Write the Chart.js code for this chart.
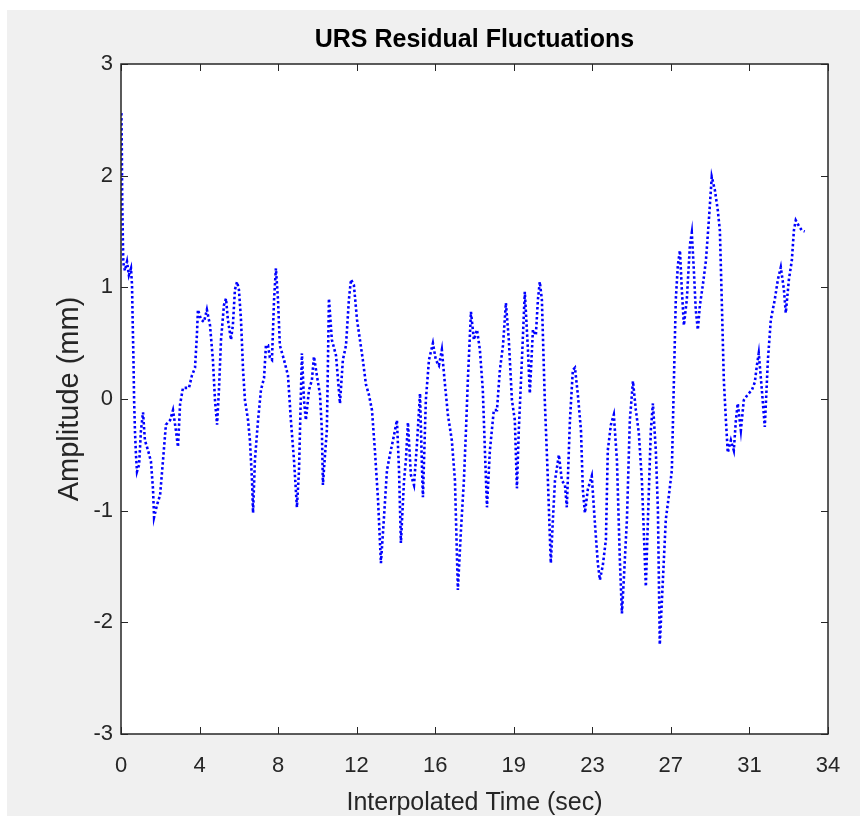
<!DOCTYPE html>
<html>
<head>
<meta charset="utf-8">
<title>URS Residual Fluctuations</title>
<script src="https://cdn.jsdelivr.net/npm/chart.js@4.4.0/dist/chart.umd.min.js"></script>
<style>
  html, body { margin: 0; padding: 0; background: #fff; }
  #wrap { width: 860px; height: 816px; }
</style>
</head>
<body>
<div id="wrap"><canvas id="myChart" width="860" height="816"></canvas></div>
<script>
// Time (sec) and residual amplitude (mm) of the URS trace
const timeSec = [
  0.02, 0.04, 0.05, 0.06, 0.08, 0.09, 0.11, 0.19, 0.29, 0.38,
  0.48, 0.53, 0.56, 0.60, 0.63, 0.67, 0.72, 0.77, 0.87, 0.96,
  1.06, 1.15, 1.30, 1.44, 1.54, 1.59, 1.73, 1.88, 2.02, 2.16,
  2.36, 2.50, 2.64, 2.74, 2.84, 2.98, 3.27, 3.41, 3.56, 3.65,
  3.70, 3.85, 3.99, 4.13, 4.28, 4.42, 4.52, 4.62, 4.71, 4.81,
  4.95, 5.05, 5.14, 5.29, 5.38, 5.48, 5.58, 5.67, 5.77, 5.87,
  5.96, 6.11, 6.20, 6.30, 6.35, 6.44, 6.59, 6.73, 6.88, 6.97,
  7.07, 7.16, 7.26, 7.36, 7.45, 7.55, 7.64, 7.84, 8.03, 8.17,
  8.32, 8.46, 8.56, 8.70, 8.80, 8.89, 9.04, 9.18, 9.28, 9.42,
  9.57, 9.66, 9.71, 9.81, 9.90, 10.00, 10.14, 10.34, 10.53, 10.67,
  10.82, 10.96, 11.06, 11.20, 11.35, 11.49, 11.63, 11.78, 11.92, 12.07,
  12.21, 12.36, 12.50, 12.64, 12.79, 12.93, 13.08, 13.27, 13.37, 13.46,
  13.61, 13.70, 13.80, 13.94, 14.09, 14.23, 14.38, 14.47, 14.52, 14.66,
  14.81, 15.00, 15.14, 15.29, 15.43, 15.58, 15.72, 15.91, 16.06, 16.20,
  16.35, 16.49, 16.59, 16.68, 16.83, 16.97, 17.12, 17.26, 17.40, 17.50,
  17.60, 17.74, 17.93, 18.08, 18.22, 18.37, 18.51, 18.65, 18.80, 18.94,
  19.04, 19.13, 19.28, 19.42, 19.57, 19.66, 19.81, 19.95, 20.05, 20.14,
  20.24, 20.38, 20.53, 20.67, 20.77, 20.87, 21.06, 21.20, 21.35, 21.44,
  21.59, 21.73, 21.83, 21.97, 22.12, 22.21, 22.31, 22.45, 22.64, 22.79,
  22.93, 23.03, 23.17, 23.32, 23.41, 23.56, 23.70, 23.85, 23.99, 24.09,
  24.18, 24.33, 24.47, 24.62, 24.76, 24.90, 25.05, 25.24, 25.34, 25.48,
  25.58, 25.72, 25.82, 25.91, 26.06, 26.20, 26.35, 26.49, 26.59, 26.68,
  26.78, 26.88, 26.97, 27.07, 27.21, 27.36, 27.45, 27.55, 27.64, 27.74,
  27.84, 27.98, 28.13, 28.27, 28.41, 28.56, 28.70, 28.80, 28.89, 28.99,
  29.09, 29.18, 29.33, 29.47, 29.57, 29.66, 29.81, 29.95, 30.14, 30.34,
  30.48, 30.58, 30.67, 30.82, 30.96, 31.11, 31.25, 31.44, 31.59, 31.73,
  31.88, 31.97, 32.12, 32.26, 32.36, 32.45, 32.60, 32.74, 32.88
];
const amplitudeMm = [
  2.56, 2.23, 1.96, 1.75, 1.54, 1.41, 1.22, 1.15, 1.23, 1.11,
  1.17, 1.02, 0.71, 0.35, -0.01, -0.28, -0.50, -0.65, -0.59, -0.28,
  -0.12, -0.37, -0.46, -0.56, -0.81, -1.06, -0.95, -0.86, -0.55, -0.23,
  -0.19, -0.10, -0.28, -0.43, -0.05, 0.10, 0.10, 0.21, 0.28, 0.57,
  0.80, 0.71, 0.69, 0.80, 0.66, 0.35, -0.01, -0.23, 0.08, 0.53,
  0.84, 0.90, 0.71, 0.53, 0.66, 0.98, 1.05, 0.98, 0.71, 0.26,
  -0.01, -0.19, -0.37, -0.73, -1.02, -0.55, -0.19, 0.08, 0.19, 0.48,
  0.48, 0.37, 0.35, 0.89, 1.17, 0.89, 0.48, 0.35, 0.21, -0.19,
  -0.55, -0.97, -0.64, 0.41, -0.01, -0.19, 0.08, 0.17, 0.38, 0.21,
  0.04, -0.28, -0.77, -0.50, -0.28, 0.90, 0.53, 0.39, -0.04, 0.35,
  0.48, 0.89, 1.07, 1.02, 0.71, 0.53, 0.35, 0.13, 0.04, -0.10,
  -0.46, -0.90, -1.47, -1.08, -0.64, -0.50, -0.37, -0.19, -0.64, -1.29,
  -0.73, -0.55, -0.21, -0.68, -0.77, -0.41, 0.05, -0.59, -0.88, -0.01,
  0.35, 0.50, 0.35, 0.30, 0.44, 0.13, -0.14, -0.37, -0.73, -1.71,
  -1.17, -0.73, -0.28, 0.17, 0.78, 0.53, 0.62, 0.44, 0.08, -0.46,
  -0.97, -0.46, -0.10, -0.10, 0.26, 0.48, 0.86, 0.53, -0.01, -0.19,
  -0.80, -0.28, 0.35, 0.96, 0.44, 0.05, 0.62, 0.57, 0.89, 1.05,
  0.89, -0.01, -0.73, -1.47, -1.08, -0.73, -0.50, -0.73, -0.77, -0.97,
  -0.19, 0.26, 0.28, 0.04, -0.28, -0.81, -1.02, -0.81, -0.69, -1.11,
  -1.47, -1.62, -1.49, -1.26, -0.46, -0.23, -0.14, -0.55, -1.44, -1.92,
  -1.62, -1.08, -0.19, 0.16, -0.10, -0.30, -0.73, -1.68, -1.08, -0.28,
  -0.04, -0.46, -0.99, -2.20, -1.62, -1.08, -0.86, -0.64, 0.17, 0.89,
  1.20, 1.33, 0.98, 0.66, 0.89, 1.38, 1.49, 1.15, 0.80, 0.62,
  0.84, 1.02, 1.24, 1.60, 1.99, 1.87, 1.69, 1.51, 0.89, 0.17,
  -0.19, -0.48, -0.37, -0.46, -0.19, -0.04, -0.28, -0.01, 0.04, 0.08,
  0.15, 0.30, 0.41, 0.08, -0.25, 0.35, 0.71, 0.89, 1.07, 1.18,
  0.98, 0.77, 1.07, 1.24, 1.51, 1.60, 1.55, 1.51, 1.50
];
// Time axis ticks: evenly spaced over 0..34, labels rounded up
const xTickValues = [0, 3.78, 7.56, 11.33, 15.11, 18.89, 22.67, 26.44, 30.22, 34];
const xTickLabels = ["0", "4", "8", "12", "16", "19", "23", "27", "31", "34"];
const yTickValues = [-3, -2, -1, 0, 1, 2, 3];

const FONT = "'Liberation Sans', Arial, sans-serif";
const AXIS_COLOR = "#262626";

// Grey figure background, white axes box, inward ticks on all four sides
const axisFrame = {
  id: "axisFrame",
  beforeDraw(chart) {
    const ctx = chart.ctx;
    const a = chart.chartArea;
    ctx.save();
    ctx.fillStyle = "#ffffff";
    ctx.fillRect(0, 0, chart.width, chart.height);
    ctx.fillStyle = "#f0f0f0";
    ctx.fillRect(7, 10, chart.width - 7, chart.height - 10);
    ctx.fillStyle = "#ffffff";
    ctx.fillRect(a.left, a.top, a.right - a.left, a.bottom - a.top);
    ctx.restore();
  },
  afterDraw(chart) {
    const ctx = chart.ctx;
    const a = chart.chartArea;
    const xs = chart.scales.x;
    const ys = chart.scales.y;
    ctx.save();
    ctx.strokeStyle = AXIS_COLOR;
    ctx.lineWidth = 1.5;
    ctx.strokeRect(a.left, a.top, a.right - a.left, a.bottom - a.top);
    ctx.lineWidth = 1;
    ctx.beginPath();
    xs.ticks.forEach((t) => {
      const px = Math.round(xs.getPixelForValue(t.value)) + 0.5;
      ctx.moveTo(px, a.bottom);
      ctx.lineTo(px, a.bottom - 7);
      ctx.moveTo(px, a.top);
      ctx.lineTo(px, a.top + 7);
    });
    ys.ticks.forEach((t) => {
      const py = Math.round(ys.getPixelForValue(t.value)) + 0.5;
      ctx.moveTo(a.left, py);
      ctx.lineTo(a.left + 7, py);
      ctx.moveTo(a.right, py);
      ctx.lineTo(a.right - 7, py);
    });
    ctx.stroke();
    ctx.restore();
  },
};

const points = timeSec.map((t, i) => ({ x: t, y: amplitudeMm[i] }));

const ctx = document.getElementById("myChart");
const chart = new Chart(ctx, {
  type: "line",
  data: {
    datasets: [
      {
        data: points,
        borderColor: "#0000ff",
        borderWidth: 2.6,
        borderDash: [2.5, 2.5],
        pointRadius: 0,
        fill: false,
        tension: 0,
      },
    ],
  },
  options: {
    responsive: false,
    animation: false,
    devicePixelRatio: 1,
    layout: { padding: { left: 0, right: 32, top: 0, bottom: 0 } },
    plugins: {
      legend: { display: false },
      tooltip: { enabled: false },
      title: {
        display: true,
        fullSize: false,
        text: "URS Residual Fluctuations",
        color: "#000000",
        font: { family: FONT, size: 25, weight: "bold", lineHeight: 1.2 },
        padding: { top: 25, bottom: 9 },
      },
    },
    scales: {
      x: {
        type: "linear",
        min: 0,
        max: 34,
        afterBuildTicks: (scale) => {
          scale.ticks = xTickValues.map((v) => ({ value: v }));
        },
        afterFit: (scale) => {
          scale.height = 82;
          scale.paddingLeft = 0;
          scale.paddingRight = 0;
        },
        ticks: {
          autoSkip: false,
          maxRotation: 0,
          padding: 19,
          color: AXIS_COLOR,
          font: { family: FONT, size: 22 },
          callback: (value, index) => xTickLabels[index],
        },
        grid: { display: false, drawTicks: false, tickLength: 0 },
        border: { display: false },
        title: {
          display: true,
          text: "Interpolated Time (sec)",
          color: AXIS_COLOR,
          font: { family: FONT, size: 25, lineHeight: 1.04 },
          padding: 0,
        },
      },
      y: {
        type: "linear",
        min: -3,
        max: 3,
        afterBuildTicks: (scale) => {
          scale.ticks = yTickValues.map((v) => ({ value: v }));
        },
        afterFit: (scale) => {
          scale.width = 121;
          scale.paddingTop = 0;
          scale.paddingBottom = 0;
        },
        ticks: {
          padding: 8,
          color: AXIS_COLOR,
          font: { family: FONT, size: 22 },
        },
        grid: { display: false, drawTicks: false, tickLength: 0 },
        border: { display: false },
        title: {
          display: true,
          text: "Amplitude (mm)",
          color: AXIS_COLOR,
          font: { family: FONT, size: 29, lineHeight: 1.2 },
          padding: { top: 53, bottom: 0 },
        },
      },
    },
  },
  plugins: [axisFrame],
});
</script>
</body>
</html>
